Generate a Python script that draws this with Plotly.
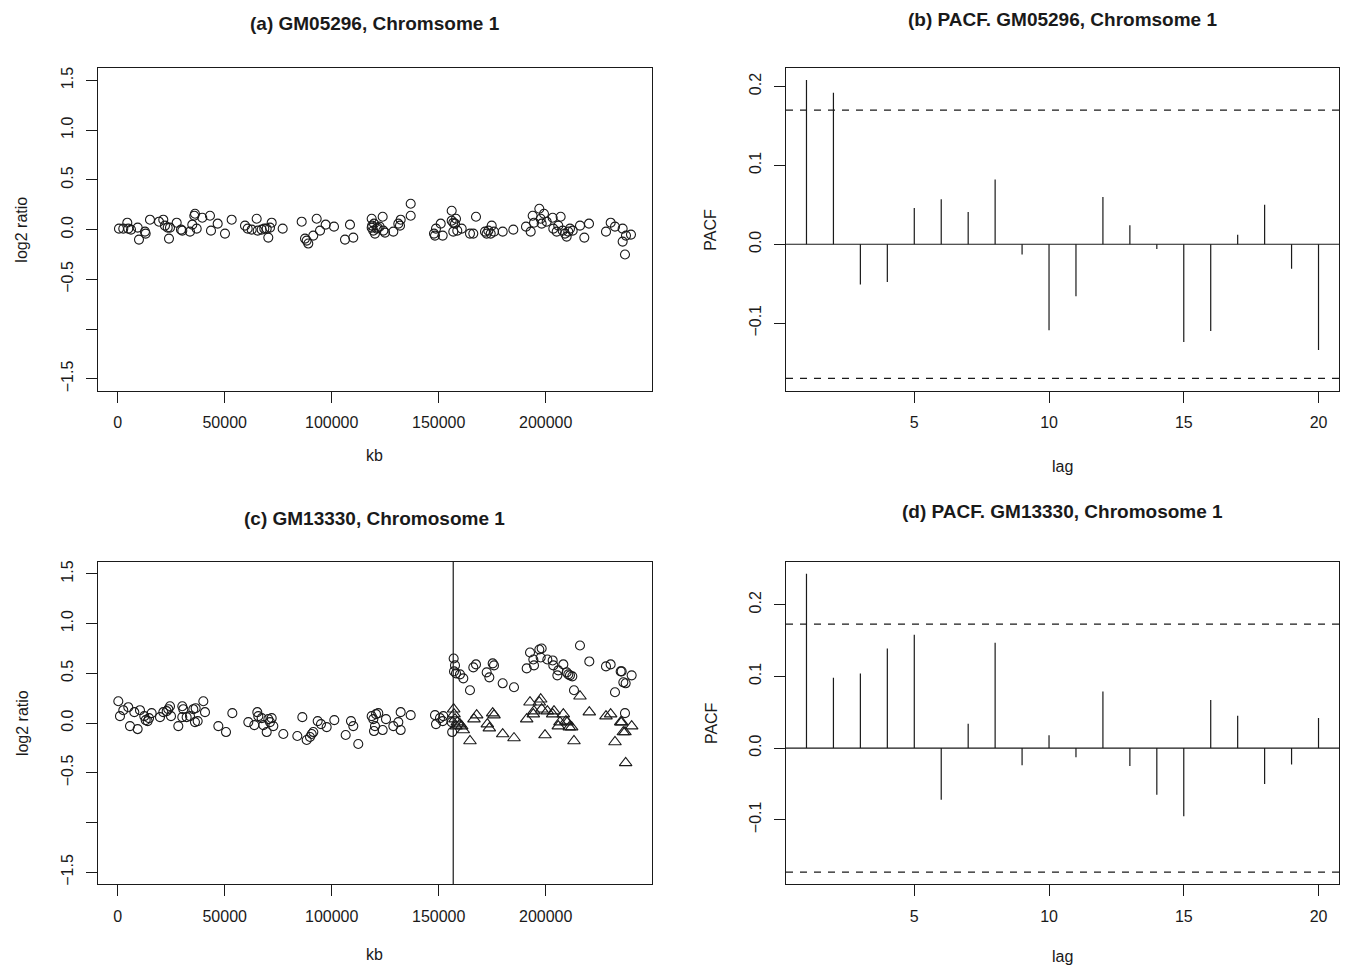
import plotly.graph_objects as go

# ---------------- data ----------------
# (a) GM05296, chromosome 1 : position (kb) and log2 ratio
A_KB = [610, 2620, 4490, 4950, 6220, 9350, 9950, 12760, 13080, 15090, 19300, 21310, 22100,
        23370, 23970, 24440, 27570, 29580, 30190, 33790, 34860, 35800, 36120, 36920, 39530,
        43130, 43600, 46730, 50140, 53270, 59490, 60750, 62620, 64950, 65420, 67290, 68510,
        69630, 70380, 71170, 71960, 77100, 85980, 87530, 88320, 89070, 91400, 92990, 94540,
        97200, 101080, 106220, 108550, 110100, 118690, 118690, 119450, 120240, 121030, 118900,
        119800, 121500, 122400, 123830, 124140, 124920, 128800, 131140, 131920, 132240, 136920,
        136920, 147810, 148280, 148740, 150940, 151870, 156080, 156080, 156830, 157620, 158090,
        158700, 156830, 160750, 164630, 166180, 167440, 171640, 172420, 173200, 174300, 174780,
        175860, 179910, 184880, 190800, 193000, 193930, 194550, 197030, 197670, 198140, 199210,
        200470, 203270, 203580, 205140, 205900, 207000, 207950, 209030, 209810, 210570, 211360,
        212620, 216040, 218060, 220240, 228190, 230380, 232390, 235970, 235970, 237530, 239860,
        237060]
A_LOG2 = [0.01, 0.01, 0.07, 0.01, 0.00, 0.02, -0.10, -0.02, -0.04, 0.10, 0.08, 0.10, 0.04,
          0.02, -0.09, 0.02, 0.07, 0.00, -0.01, -0.02, 0.05, 0.14, 0.16, 0.01, 0.12,
          0.14, -0.01, 0.06, -0.04, 0.10, 0.04, 0.01, 0.00, 0.11, -0.01, 0.00, 0.01,
          0.01, -0.08, 0.02, 0.07, 0.01, 0.08, -0.09, -0.11, -0.14, -0.06, 0.11, -0.01,
          0.05, 0.03, -0.10, 0.05, -0.08, 0.11, 0.02, -0.01, -0.04, 0.01, 0.04,
          0.06, 0.02, 0.03, 0.13, -0.01, -0.03, -0.02, 0.06, 0.04, 0.10, 0.26,
          0.14, -0.04, -0.06, 0.01, 0.06, -0.06, 0.19, 0.09, 0.07, 0.06, 0.11,
          -0.01, -0.02, 0.01, -0.04, -0.04, 0.13, -0.02, -0.04, -0.01, -0.04, 0.04,
          -0.02, -0.02, 0.00, 0.03, -0.02, 0.14, 0.07, 0.21, 0.11, 0.06, 0.16,
          0.08, 0.12, 0.01, -0.02, 0.04, 0.13, -0.01, -0.04, -0.07, -0.02, 0.01,
          -0.01, 0.04, -0.08, 0.06, -0.02, 0.07, 0.03, 0.01, -0.12, -0.06, -0.05,
          -0.25]

# (c) GM13330, chromosome 1 : observed log2 ratios (circles)
C_KB = [290, 1070, 2620, 4960, 5750, 7780, 9330, 10420, 12440, 13080, 14000, 14640, 15870,
        19770, 21320, 22900, 23660, 24440, 24910, 28330, 30190, 30660, 30190, 32230, 33790,
        35350, 36120, 36430, 37380, 40020, 40800, 47030, 50620, 53580, 61050, 63850, 65250,
        65720, 67290, 68060, 69630, 70400, 71170, 71960, 72730, 77400, 83950, 86290, 88320,
        89860, 90660, 91420, 93460, 95010, 97660, 101230, 106540, 109020, 110100, 112430,
        118690, 119450, 119770, 120240, 120710, 121780, 123830, 125380, 128810, 131150,
        132240, 132240, 136920, 148280, 148740, 150610, 151870, 152170, 156080, 156300,
        157000, 157630, 157170, 158090, 159960, 161510, 164630, 166190, 167440, 172430,
        173670, 175240, 175860, 179910, 185200, 191130, 192680, 194230, 194540, 197030,
        198130, 197670, 200780, 203270, 203580, 205450, 205910, 208250, 209810, 210580,
        211360, 212450, 213230, 216030, 220390, 228180, 230360, 232390, 235050, 235520,
        236290, 237380, 240180, 237060]
C_LOG2 = [0.22, 0.07, 0.13, 0.16, -0.03, 0.11, -0.06, 0.13, 0.07, 0.03, 0.02, 0.05, 0.10,
          0.06, 0.11, 0.12, 0.14, 0.17, 0.07, -0.03, 0.17, 0.14, 0.06, 0.06, 0.07,
          0.14, 0.01, 0.15, 0.02, 0.22, 0.11, -0.03, -0.09, 0.10, 0.01, -0.02, 0.11,
          0.07, 0.05, -0.02, -0.09, 0.04, 0.01, 0.05, -0.03, -0.11, -0.13, 0.06, -0.17,
          -0.14, -0.11, -0.09, 0.02, -0.01, -0.04, 0.03, -0.12, 0.02, -0.03, -0.21,
          0.07, 0.04, -0.08, -0.03, 0.09, 0.10, -0.07, 0.04, -0.03, 0.01,
          0.11, -0.07, 0.08, 0.08, -0.01, 0.05, 0.02, 0.07, 0.01, -0.09,
          0.65, 0.58, 0.52, 0.50, 0.49, 0.45, 0.33, 0.56, 0.59, 0.51,
          0.46, 0.60, 0.58, 0.40, 0.36, 0.55, 0.71, 0.64, 0.58, 0.74,
          0.75, 0.66, 0.64, 0.63, 0.58, 0.48, 0.53, 0.59, 0.51, 0.49,
          0.48, 0.47, 0.33, 0.78, 0.62, 0.57, 0.59, 0.31, 0.52, 0.52,
          0.41, 0.40, 0.48, 0.10]

# (c) adjusted log2 ratios after the breakpoint (triangles)
T_KB = [157000, 157170, 157630, 158090, 158710, 159960, 160740, 161510, 164630, 166500,
        167750, 172740, 173670, 175240, 175860, 179910, 185200, 191130, 192680, 194230,
        194540, 197030, 197670, 198130, 199690, 200780, 203270, 203890, 205910, 206690,
        208250, 209490, 210110, 211050, 212140, 213230, 216030, 220390, 228180, 230360,
        232390, 235050, 235520, 236290, 237060, 237380, 240180]
T_LOG2 = [0.14, 0.09, 0.04, -0.03, 0.01, -0.01, -0.03, -0.07, -0.18, 0.04,
          0.08, -0.01, -0.05, 0.10, 0.08, -0.11, -0.15, 0.04, 0.21, 0.09,
          0.12, 0.21, 0.24, 0.14, -0.12, 0.12, 0.09, 0.12, -0.03, 0.01,
          0.09, 0.02, 0.01, -0.04, -0.04, -0.18, 0.27, 0.11, 0.07, 0.09,
          -0.19, 0.01, 0.01, -0.09, -0.09, -0.40, -0.03]

BREAK_KB = 156800

# PACF values, lags 1..20
LAGS = list(range(1, 21))
PACF_B = [0.208, 0.192, -0.051, -0.048, 0.046, 0.057, 0.041, 0.082, -0.013, -0.109,
          -0.066, 0.060, 0.024, -0.006, -0.124, -0.110, 0.012, 0.050, -0.031, -0.134]
CI_B = 0.170
PACF_D = [0.243, 0.098, 0.104, 0.139, 0.158, -0.072, 0.034, 0.147, -0.024, 0.018,
          -0.013, 0.079, -0.025, -0.065, -0.095, 0.067, 0.045, -0.050, -0.023, 0.042]
CI_D = 0.173

KB_TICKS = [0, 50000, 100000, 150000, 200000]
LOG_TICKS = [-1.5, -1.0, -0.5, 0.0, 0.5, 1.0, 1.5]
LOG_TICKTEXT = ["\u22121.5", "", "\u22120.5", "0.0", "0.5", "1.0", "1.5"]
LAG_TICKS = [5, 10, 15, 20]
PACF_TICKS = [-0.1, 0.0, 0.1, 0.2]
PACF_TICKTEXT = ["\u22120.1", "0.0", "0.1", "0.2"]

TITLES = ["(a) GM05296, Chromsome 1", "(b) PACF. GM05296, Chromsome 1",
          "(c) GM13330, Chromosome 1", "(d) PACF. GM13330, Chromosome 1"]

# ---------------- layout helpers ----------------
W, H = 1347, 968
INK = "#1a1a1a"
FONT = "Liberation Sans, Arial, Helvetica, sans-serif"


def px_x(v):
    return v / W


def px_y(v):
    return 1 - v / H


BOX_L = (98, 651.6)
BOX_R = (786, 1339)
BOX_TOP = (66.7, 390)
BOX_BOT = (561.7, 885)


def stems(lags, vals):
    xs, ys = [], []
    for l, v in zip(lags, vals):
        xs += [l, l, None]
        ys += [0, v, None]
    return xs, ys


fig = go.Figure()

circle = dict(symbol="circle-open", size=9, color=INK, line=dict(width=1.1, color=INK))
tri = dict(symbol="triangle-up-open", size=11, color=INK, line=dict(width=1.1, color=INK))

fig.add_trace(go.Scatter(x=A_KB, y=A_LOG2, mode="markers", marker=circle,
                         xaxis="x", yaxis="y", showlegend=False))
bx, by = stems(LAGS, PACF_B)
fig.add_trace(go.Scatter(x=bx, y=by, mode="lines", line=dict(color=INK, width=1.2),
                         xaxis="x2", yaxis="y2", showlegend=False))
fig.add_trace(go.Scatter(x=C_KB, y=C_LOG2, mode="markers", marker=circle,
                         xaxis="x3", yaxis="y3", showlegend=False))
fig.add_trace(go.Scatter(x=T_KB, y=T_LOG2, mode="markers", marker=tri,
                         xaxis="x3", yaxis="y3", showlegend=False))
dx, dy = stems(LAGS, PACF_D)
fig.add_trace(go.Scatter(x=dx, y=dy, mode="lines", line=dict(color=INK, width=1.2),
                         xaxis="x4", yaxis="y4", showlegend=False))

common = dict(showline=True, mirror=True, linecolor=INK, linewidth=1.3, ticks="outside",
              ticklen=11, tickwidth=1.2, tickcolor=INK, showgrid=False, zeroline=False,
              tickfont=dict(family=FONT, size=16, color=INK))

kb_range = [-9200, 249500]
log_range = [-1.62, 1.62]
lag_range = [0.24, 20.76]

layout = dict(
    width=W, height=H, margin=dict(l=0, r=0, t=0, b=0),
    paper_bgcolor="white", plot_bgcolor="white", font=dict(family=FONT, color=INK),
    xaxis=dict(domain=[px_x(BOX_L[0]), px_x(BOX_L[1])], anchor="y", range=kb_range,
               tickvals=KB_TICKS, ticktext=[str(t) for t in KB_TICKS], ticklabelstandoff=6, **common),
    yaxis=dict(domain=[px_y(BOX_TOP[1]), px_y(BOX_TOP[0])], anchor="x", range=log_range,
               tickvals=LOG_TICKS, ticktext=LOG_TICKTEXT, tickangle=-90, ticklabelstandoff=6, **common),
    xaxis2=dict(domain=[px_x(BOX_R[0]), px_x(BOX_R[1])], anchor="y2", range=lag_range,
                tickvals=LAG_TICKS, ticklabelstandoff=6, **common),
    yaxis2=dict(domain=[px_y(BOX_TOP[1]), px_y(BOX_TOP[0])], anchor="x2",
                range=[-0.1857, 0.2227], tickvals=PACF_TICKS, ticktext=PACF_TICKTEXT,
                tickangle=-90, ticklabelstandoff=6, **common),
    xaxis3=dict(domain=[px_x(BOX_L[0]), px_x(BOX_L[1])], anchor="y3", range=kb_range,
                tickvals=KB_TICKS, ticktext=[str(t) for t in KB_TICKS], ticklabelstandoff=6, **common),
    yaxis3=dict(domain=[px_y(BOX_BOT[1]), px_y(BOX_BOT[0])], anchor="x3", range=log_range,
                tickvals=LOG_TICKS, ticktext=LOG_TICKTEXT, tickangle=-90, ticklabelstandoff=6, **common),
    xaxis4=dict(domain=[px_x(BOX_R[0]), px_x(BOX_R[1])], anchor="y4", range=lag_range,
                tickvals=LAG_TICKS, ticklabelstandoff=6, **common),
    yaxis4=dict(domain=[px_y(BOX_BOT[1]), px_y(BOX_BOT[0])], anchor="x4",
                range=[-0.19, 0.2596], tickvals=PACF_TICKS, ticktext=PACF_TICKTEXT,
                tickangle=-90, ticklabelstandoff=6, **common),
)
fig.update_layout(**layout)

shapes = []
# zero lines and confidence bounds in PACF panels
for xa, ya, ci in (("x2", "y2", CI_B), ("x4", "y4", CI_D)):
    shapes.append(dict(type="line", xref=xa + " domain", yref=ya, x0=0, x1=1, y0=0, y1=0,
                       line=dict(color=INK, width=1.2)))
    for s in (ci, -ci):
        shapes.append(dict(type="line", xref=xa + " domain", yref=ya, x0=0, x1=1, y0=s, y1=s,
                           line=dict(color=INK, width=1.2, dash="7px,7px")))
# breakpoint line in (c)
shapes.append(dict(type="line", xref="x3", yref="y3 domain", x0=BREAK_KB, x1=BREAK_KB, y0=0, y1=1,
                   line=dict(color=INK, width=1.2)))
fig.update_layout(shapes=shapes)

ann = []
title_pos = [((BOX_L[0] + BOX_L[1]) / 2, 22), ((BOX_R[0] + BOX_R[1]) / 2, 18),
             ((BOX_L[0] + BOX_L[1]) / 2, 518), ((BOX_R[0] + BOX_R[1]) / 2, 511)]
for t, (xp, yp) in zip(TITLES, title_pos):
    ann.append(dict(text="<b>" + t + "</b>", x=px_x(xp), y=px_y(yp), xref="paper", yref="paper",
                    showarrow=False, xanchor="center", yanchor="middle",
                    font=dict(family=FONT, size=19, color=INK)))
axis_titles = [("kb", (BOX_L[0] + BOX_L[1]) / 2, 455, 0), ("lag", (BOX_R[0] + BOX_R[1]) / 2, 466, 0),
               ("kb", (BOX_L[0] + BOX_L[1]) / 2, 955, 0), ("lag", (BOX_R[0] + BOX_R[1]) / 2, 957, 0),
               ("log2 ratio", 22, (BOX_TOP[0] + BOX_TOP[1]) / 2, -90),
               ("PACF", 711, (BOX_TOP[0] + BOX_TOP[1]) / 2, -90),
               ("log2 ratio", 22, (BOX_BOT[0] + BOX_BOT[1]) / 2, -90),
               ("PACF", 711, (BOX_BOT[0] + BOX_BOT[1]) / 2, -90)]
for t, xp, yp, ang in axis_titles:
    ann.append(dict(text=t, x=px_x(xp), y=px_y(yp), xref="paper", yref="paper", showarrow=False,
                    xanchor="center", yanchor="middle", textangle=ang,
                    font=dict(family=FONT, size=16, color=INK)))
fig.update_layout(annotations=ann)

fig.write_html("out.html")
